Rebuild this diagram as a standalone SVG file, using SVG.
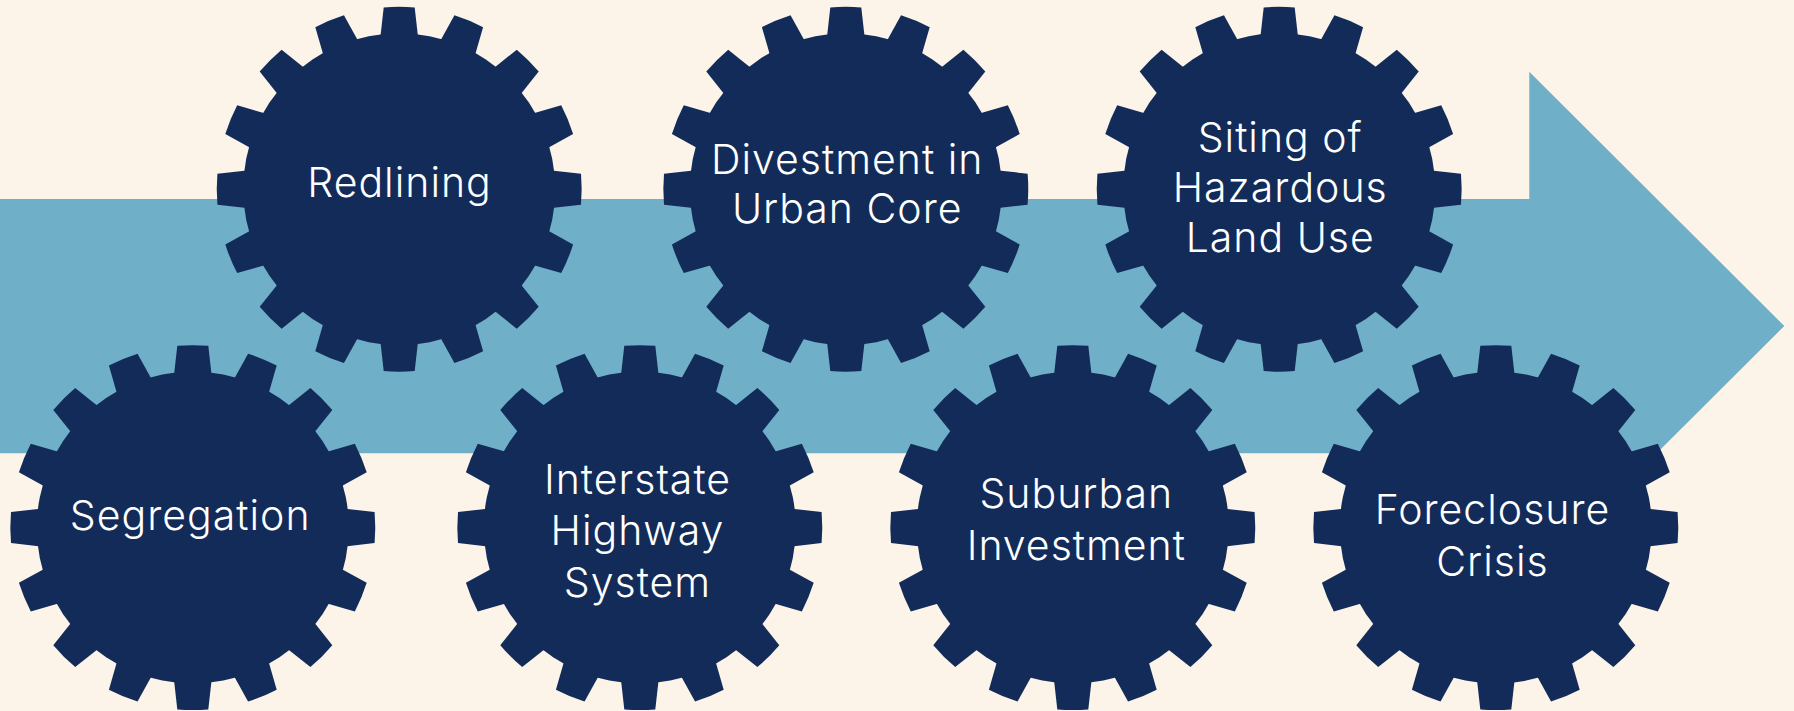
<svg xmlns="http://www.w3.org/2000/svg" xmlns:xlink="http://www.w3.org/1999/xlink" width="1794" height="711" viewBox="0 0 1794 711">
  <style>
    .gear { fill: #132B59; }
    .label { font-family: Inter, "Noto Sans", "Liberation Sans", sans-serif; font-size: 41px; font-weight: 350; letter-spacing: 1px; fill: #FFFFFF; text-anchor: middle; }
  </style>
  <defs>
    <path id="tooth" d="M -19.3,-148 L -15.5,-181.8 A 182.5 182.5 0 0 1 15.5,-181.8 L 19.3,-148 Z"/>
    <g id="gearShape">
      <circle cx="0" cy="0" r="156"/>
      <use xlink:href="#tooth" href="#tooth"/>
      <use xlink:href="#tooth" href="#tooth" transform="rotate(22.5)"/>
      <use xlink:href="#tooth" href="#tooth" transform="rotate(45)"/>
      <use xlink:href="#tooth" href="#tooth" transform="rotate(67.5)"/>
      <use xlink:href="#tooth" href="#tooth" transform="rotate(90)"/>
      <use xlink:href="#tooth" href="#tooth" transform="rotate(112.5)"/>
      <use xlink:href="#tooth" href="#tooth" transform="rotate(135)"/>
      <use xlink:href="#tooth" href="#tooth" transform="rotate(157.5)"/>
      <use xlink:href="#tooth" href="#tooth" transform="rotate(180)"/>
      <use xlink:href="#tooth" href="#tooth" transform="rotate(202.5)"/>
      <use xlink:href="#tooth" href="#tooth" transform="rotate(225)"/>
      <use xlink:href="#tooth" href="#tooth" transform="rotate(247.5)"/>
      <use xlink:href="#tooth" href="#tooth" transform="rotate(270)"/>
      <use xlink:href="#tooth" href="#tooth" transform="rotate(292.5)"/>
      <use xlink:href="#tooth" href="#tooth" transform="rotate(315)"/>
      <use xlink:href="#tooth" href="#tooth" transform="rotate(337.5)"/>
    </g>
  </defs>

  <rect x="0" y="0" width="1794" height="711" fill="#FDF4E9"/>

  <g id="connectors">
    <polygon id="arrow" points="0,199 1529.3,199 1529.3,71.7 1784.3,326 1529.3,580.3 1529.3,453.3 0,453.3" fill="#6FAFC8"/>
  </g>

  <g id="redlining">
    <use class="gear" xlink:href="#gearShape" href="#gearShape" transform="translate(399.2,189.2)"/>
    <text class="label" x="399.5" y="196.7">Redlining</text>
  </g>

  <g id="divestment">
    <use class="gear" xlink:href="#gearShape" href="#gearShape" transform="translate(845.8,189.2)"/>
    <text class="label" x="847.2" y="174">Divestment in</text>
    <text class="label" x="847.2" y="223.3">Urban Core</text>
  </g>

  <g id="siting">
    <use class="gear" xlink:href="#gearShape" href="#gearShape" transform="translate(1279.2,189.2)"/>
    <text class="label" x="1280.2" y="151.7">Siting of</text>
    <text class="label" x="1280.2" y="202.3">Hazardous</text>
    <text class="label" x="1280.2" y="252.3">Land Use</text>
  </g>

  <g id="segregation">
    <use class="gear" xlink:href="#gearShape" href="#gearShape" transform="translate(192.8,527.6)"/>
    <text class="label" x="190.2" y="530">Segregation</text>
  </g>

  <g id="interstate">
    <use class="gear" xlink:href="#gearShape" href="#gearShape" transform="translate(639.8,527.6)"/>
    <text class="label" x="637.5" y="494.3">Interstate</text>
    <text class="label" x="637.5" y="545">Highway</text>
    <text class="label" x="637.5" y="596.7">System</text>
  </g>

  <g id="suburban">
    <use class="gear" xlink:href="#gearShape" href="#gearShape" transform="translate(1072.8,527.6)"/>
    <text class="label" x="1076.3" y="508.3">Suburban</text>
    <text class="label" x="1076.3" y="560">Investment</text>
  </g>

  <g id="foreclosure">
    <use class="gear" xlink:href="#gearShape" href="#gearShape" transform="translate(1495.8,527.6)"/>
    <text class="label" x="1492.5" y="524">Foreclosure</text>
    <text class="label" x="1492.5" y="575.7">Crisis</text>
  </g>
</svg>
